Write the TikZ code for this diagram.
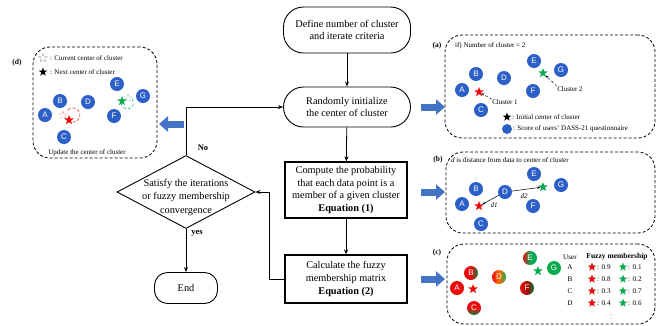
\documentclass[tikz,border=0pt]{standalone}
\usepackage{fontspec}
\setmainfont{Liberation Serif}
\newfontfamily\cfont{Liberation Sans}
\usetikzlibrary{shapes.geometric,arrows.meta,calc}
\definecolor{ballblue}{RGB}{45,95,200}
\definecolor{arrblue}{RGB}{68,114,196}
\definecolor{sred}{RGB}{235,10,10}
\definecolor{sgreen}{RGB}{10,170,80}
\tikzset{
  flow/.style={draw, line width=0.9pt, align=center, font=\fontsize{10.3}{12.8}\selectfont, inner sep=1pt},
  stadium/.style={flow, rectangle, rounded corners=20pt},
  procbox/.style={flow, rectangle, line width=1.3pt},
  conn/.style={line width=0.8pt, -{Stealth[length=5pt,width=4pt]}},
  bigarrow/.style={line width=7pt, arrblue, -{Triangle[length=9pt,width=15pt]}},
  panel/.style={draw, dashed, dash pattern=on 3pt off 2pt, line width=0.8pt, rounded corners=17pt, rectangle, inner sep=0},
  ball/.style={circle, inner sep=0, minimum size=14pt, fill=ballblue, text=white, font=\cfont\fontsize{8}{8}\selectfont},
  cball/.style={circle, inner sep=0, minimum size=14pt, text=white, font=\cfont\fontsize{8}{8}\selectfont},
  sstar/.style={star, star points=5, star point ratio=2.4, inner sep=0, minimum size=10pt},
  small/.style={font=\fontsize{7}{8}\selectfont, inner sep=0},
  plabel/.style={font=\bfseries\fontsize{7.5}{8}\selectfont, inner sep=0},
}
\begin{document}
\begin{tikzpicture}[x=1pt,y=-1pt]
\useasboundingbox (0,0) rectangle (661,325);

% ---------------- flowchart ----------------
\node[stadium, minimum width=127pt, minimum height=46pt] (define) at (347,30) {Define number of cluster\\and iterate criteria};
\node[stadium, minimum width=127pt, minimum height=40pt] (rand) at (347,107) {Randomly initialize\\the center of cluster};
\node[procbox, minimum width=122pt, minimum height=56pt] (comp) at (346,190) {Compute the probability\\that each data point is a\\member of a given cluster\\\textbf{Equation (1)}};
\node[procbox, minimum width=122pt, minimum height=48pt] (calc) at (346,279) {Calculate the fuzzy\\membership matrix\\\textbf{Equation (2)}};
\node[draw, diamond, line width=0.9pt, minimum width=138pt, minimum height=73pt, inner sep=0] (dia) at (186,192) {};
\node[align=center, font=\fontsize{10.3}{13.5}\selectfont, inner sep=0] (diatext) at (186,197) {Satisfy the iterations\\or fuzzy membership\\convergence};
\node[stadium, rounded corners=13pt, minimum width=63pt, minimum height=31pt] (end) at (186,288) {End};

\draw[conn] (define) -- (rand);
\draw[conn] (rand) -- (comp);
\draw[conn] (comp) -- (calc);
\draw[conn] (calc.west) -- ++(-15,0) |- (dia.east);
\draw[conn] (dia.north) |- (rand.west);
\draw[conn] (dia.south) -- (end.north);
\node[font=\bfseries\fontsize{8.5}{9}\selectfont] (no) at (203,148) {No};
\node[font=\bfseries\fontsize{8.5}{9}\selectfont] (yes) at (197,233) {yes};

% ---------------- blue arrows ----------------
\coordinate (ld1) at (184,124); \coordinate (ld2) at (159,124);
\coordinate (ra1) at (421,107); \coordinate (ra2) at (445,107);
\coordinate (rb1) at (421,192); \coordinate (rb2) at (445,192);
\coordinate (rc1) at (421,279); \coordinate (rc2) at (445,279);
\draw[bigarrow] (ld1) -- (ld2);
\draw[bigarrow] (ra1) -- (ra2);
\draw[bigarrow] (rb1) -- (rb2);
\draw[bigarrow] (rc1) -- (rc2);

% ---------------- panel (d) ----------------
\node[panel, minimum width=124pt, minimum height=111pt] (pd) at (95,102.5) {};
\node[plabel] (ld) at (17,63) {(d)};
\node[sstar, draw=gray!70, line width=0.4pt, minimum size=9pt] (dleg1) at (43,58) {};
\node[small, anchor=west] (dleg1t) at (50,58) {: Current center of cluster};
\node[sstar, fill=black, minimum size=9pt] (dleg2) at (43,72) {};
\node[small, anchor=west] (dleg2t) at (50,72) {: Next center of cluster};
\node[ball] (dB) at (60,101) {B};
\node[ball] (dA) at (45,115) {A};
\node[ball] (dC) at (64,137) {C};
\node[ball] (dD) at (88,102) {D};
\node[ball] (dE) at (117,84) {E};
\node[ball] (dG) at (143,96) {G};
\node[ball] (dF) at (114,116) {F};
\node[sstar, draw=sred!45, line width=0.4pt, densely dashed, minimum size=8pt] (dso1) at (63,115) {};
\node[sstar, fill=sred] (ds1) at (69,120) {};
\draw[sred, densely dashed, line width=0.5pt, -{Stealth[length=2.5pt]}] (68,110) arc[start angle=-135, end angle=130, radius=7];
\node[sstar, draw=sgreen!45, line width=0.4pt, densely dashed, minimum size=8pt] (dso2) at (128,98) {};
\node[sstar, fill=sgreen] (ds2) at (122,101) {};
\draw[sgreen, densely dashed, line width=0.5pt, -{Stealth[length=2.5pt]}] (132,99) arc[start angle=-40, end angle=200, radius=6];
\node[small] (dcap) at (87,153) {Update the center of cluster};

% ---------------- panel (a) ----------------
\node[panel, minimum width=210pt, minimum height=103pt] (pa) at (550,86.5) {};
\node[plabel] (la) at (437,46) {(a)};
\node[small, anchor=west] (atitle) at (455,46) {if) Number of cluster = 2};
\node[ball] (aE) at (534,61) {E};
\node[ball] (aG) at (561,70) {G};
\node[ball] (aB) at (476,74) {B};
\node[ball] (aD) at (504,78) {D};
\node[ball] (aA) at (462,90) {A};
\node[ball] (aF) at (533,91) {F};
\node[ball] (aC) at (481,110) {C};
\node[sstar, fill=sred] (as1) at (479,92) {};
\node[sstar, fill=sgreen] (as2) at (543,73) {};
\node[small] (acl1) at (505,102) {Cluster 1};
\node[small] (acl2) at (570,89) {Cluster 2};
\draw[densely dashed, line width=0.4pt, -{Stealth[length=3pt]}] (acl1.north west) -- (as1);
\draw[densely dashed, line width=0.4pt, -{Stealth[length=3pt]}] (acl2.north west) -- (as2);
\node[sstar, fill=black, minimum size=9pt] (aleg1) at (507,117) {};
\node[small, anchor=west] (aleg1t) at (512,117) {: Initial center of cluster};
\node[circle, fill=ballblue, inner sep=0, minimum size=10pt] (aleg2) at (507,129) {};
\node[small, anchor=west] (aleg2t) at (513,129) {: Score of users' DASS-21 questionnaire};

% ---------------- panel (b) ----------------
\node[panel, minimum width=209pt, minimum height=81pt] (pb) at (550.5,192.5) {};
\node[plabel] (lb) at (438,160) {(b)};
\node[small, anchor=west] (btitle) at (451,160) {\textit{d} is distance from data to center of cluster};
\node[ball] (bE) at (534,174) {E};
\node[ball] (bG) at (561,185) {G};
\node[ball] (bB) at (476,189) {B};
\node[ball] (bD) at (505,192) {D};
\node[ball] (bA) at (462,204) {A};
\node[ball] (bF) at (533,206) {F};
\node[ball] (bC) at (481,224) {C};
\node[sstar, fill=sred] (bs1) at (479,206) {};
\node[sstar, fill=sgreen] (bs2) at (543,187) {};
\draw[line width=0.5pt, -{Stealth[length=3pt]}] (bD) -- (bs1);
\draw[line width=0.5pt, -{Stealth[length=3pt]}] (bD) -- (bs2);
\node[small, font=\itshape\fontsize{7}{8}\selectfont] (bd1) at (494,205) {d1};
\node[small, font=\itshape\fontsize{7}{8}\selectfont] (bd2) at (524,196) {d2};

% ---------------- panel (c) ----------------
\node[panel, minimum width=208pt, minimum height=80pt] (pc) at (551,284) {};
\node[plabel] (lc) at (437,253) {(c)};
\node[cball, left color=sred, right color=sgreen, middle color=sgreen] (cE) at (530,258) {E};
\node[cball, fill=sgreen] (cG) at (554,268) {G};
\node[cball, left color=sred, right color=sgreen!80!black, middle color=sred] (cB) at (471,273) {B};
\node[cball, left color=sred, right color=sgreen, middle color=orange!85!red] (cD) at (499,277) {D};
\node[cball, fill=sred] (cA) at (457,288) {A};
\node[cball, left color=sred, right color=sgreen!70!black, middle color=sred!70!black] (cF) at (527,288) {F};
\node[cball, top color=sred, bottom color=sgreen!80!black, middle color=sred] (cC) at (474,308) {C};
\node[sstar, fill=sred] (cs1) at (473,289) {};
\node[sstar, fill=sgreen] (cs2) at (538,271) {};
\node[small, font=\fontsize{7.2}{8}\selectfont] (cuser) at (570,257) {User};
\node[small, font=\bfseries\fontsize{7.5}{8}\selectfont] (cfm) at (617,257) {Fuzzy membership};
\foreach \u/\r/\g/\y in {A/0.9/0.1/267, B/0.8/0.2/279, C/0.3/0.7/291, D/0.4/0.6/303}{
  \node[small, font=\fontsize{7.2}{8}\selectfont] (cu\u) at (570,\y) {\u};
  \node[sstar, fill=sred, minimum size=9pt] (cr\u) at (592,\y) {};
  \node[small, anchor=west, font=\fontsize{7.2}{8}\selectfont] (crt\u) at (597,\y) {: \r};
  \node[sstar, fill=sgreen, minimum size=9pt] (cg\u) at (623,\y) {};
  \node[small, anchor=west, font=\fontsize{7.2}{8}\selectfont] (cgt\u) at (628,\y) {: \g};
}
\node[small, font=\fontsize{6}{6}\selectfont] (cdots) at (611,316.5) {$\vdots$};
\end{tikzpicture}
\end{document}
